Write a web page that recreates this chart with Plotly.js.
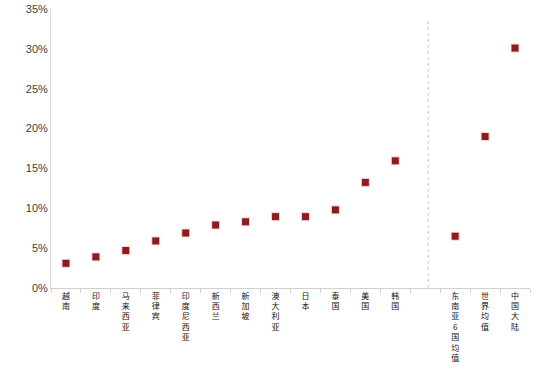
<!DOCTYPE html>
<html>
<head>
<meta charset="utf-8">
<script src="https://cdn.plot.ly/plotly-3.0.1.min.js"></script>
<style>html,body{margin:0;padding:0;background:#fff;}#chart{width:550px;height:371px;}</style>
</head>
<body>
<div id="chart"></div>
<script>
const countries = ["越南","印度","马来西亚","菲律宾","印度尼西亚","新西兰","新加坡","澳大利亚","日本","泰国","美国","韩国"];
const countryValues = [3.1, 3.9, 4.7, 5.9, 6.9, 7.9, 8.3, 8.95, 8.95, 9.8, 13.25, 15.95];
const averages = ["东南亚6国均值","世界均值","中国大陆"];
const averageValues = [6.5, 19.0, 30.1];
const gap = " ";
const categoryOrder = [...countries, gap, ...averages];
const tickLabels = categoryOrder.map(c => Array.from(c).join("<br>"));

const markerStyle = {symbol: "square", size: 8, color: "#8e1c1f", line: {color: "rgba(255,220,220,0.9)", width: 1}};

const traces = [
  {type: "scatter", mode: "markers", x: countries, y: countryValues, marker: markerStyle, hoverinfo: "x+y"},
  {type: "scatter", mode: "markers", x: averages, y: averageValues, marker: markerStyle, hoverinfo: "x+y"}
];

const layout = {
  width: 550, height: 371,
  margin: {l: 51, r: 20, t: 9, b: 83},
  paper_bgcolor: "#fff", plot_bgcolor: "#fff",
  showlegend: false,
  xaxis: {
    type: "category",
    categoryorder: "array", categoryarray: categoryOrder,
    tickmode: "array", tickvals: categoryOrder, ticktext: tickLabels,
    range: [-0.5, 15.5],
    tickson: "boundaries",
    ticks: "outside", ticklen: 4, tickcolor: "#d0d0d0", tickwidth: 1,
    tickangle: 0,
    tickfont: {family: "Noto Sans CJK SC, Liberation Sans, sans-serif", size: 8, color: "#111"},
    showline: true, linecolor: "#d0d0d0", linewidth: 1,
    showgrid: false, zeroline: false, fixedrange: true
  },
  yaxis: {
    range: [0, 35], dtick: 5, tick0: 0,
    ticksuffix: "%",
    ticks: "", showgrid: false, zeroline: false,
    showline: true, linecolor: "#d9d9d9", linewidth: 1,
    tickfont: {family: "Liberation Sans, Arial, sans-serif", size: 11, color: "#404040"},
    fixedrange: true
  },
  shapes: [{
    type: "line", xref: "x", yref: "y",
    x0: 12.1, x1: 12.1, y0: 0, y1: 33.8,
    line: {color: "#c8c8c8", width: 1, dash: "dot"}
  }]
};

Plotly.newPlot("chart", traces, layout, {displayModeBar: false, staticPlot: true});
</script>
</body>
</html>
